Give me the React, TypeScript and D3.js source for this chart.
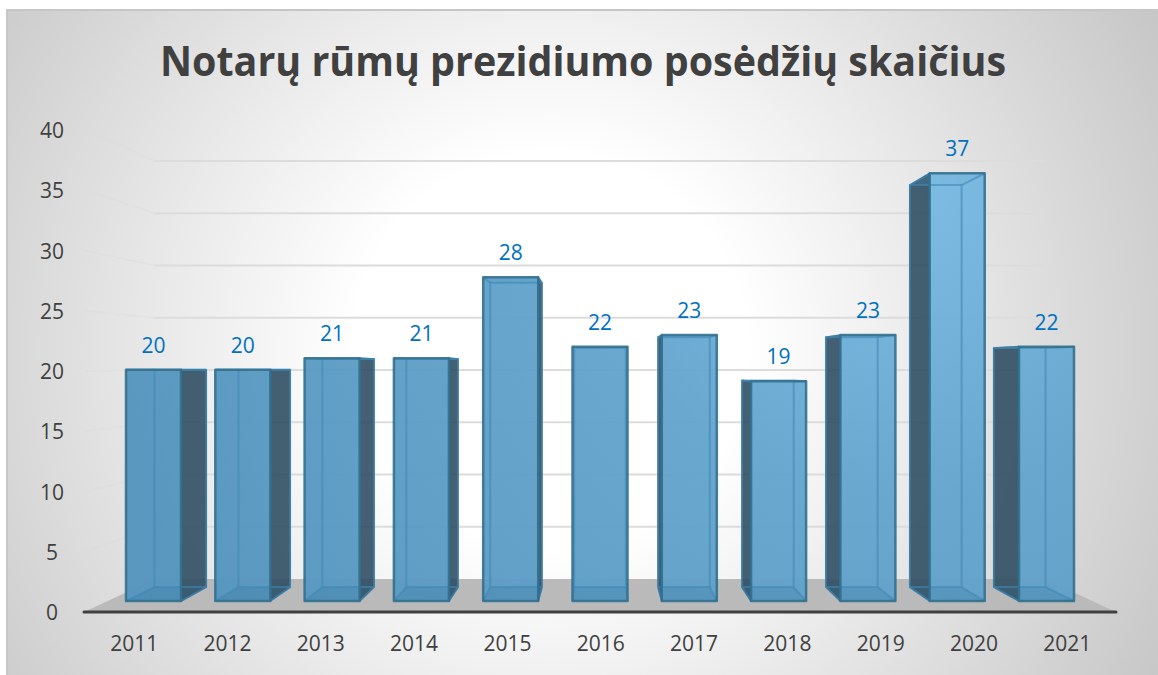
import React from "react";
import * as d3 from "d3";

const years = ["2011","2012","2013","2014","2015","2016","2017","2018","2019","2020","2021"];
const values = [20,20,21,21,28,22,23,19,23,37,22];
const yTicks = [0,5,10,15,20,25,30,35,40];
const gridTicks = [5,10,15,20,25,30,35,40];
const title = "Notarų rūmų prezidiumo posėdžių skaičius";

const W = 1158, H = 675;
const FONT = "'Open Sans', sans-serif";
const vanish = { x: 600, y: 369, k: 0.94 };

const xBar = d3.scaleBand<string>().domain(years).range([126, 1074]).paddingInner(0.384).paddingOuter(0);
const xLabel = d3.scaleBand<string>().domain(years).range([87.5, 1114]);
const yFront = d3.scaleLinear().domain([0, 40]).range([601, 138.6]);
const yWall = d3.scaleLinear().domain([0, 40]).range([579, 161]);
const yLeft = d3.scaleLinear().domain([0, 40]).range([612, 130]);

const backX = (x: number) => vanish.x + vanish.k * (x - vanish.x);
const backY = (y: number) => vanish.y + vanish.k * (y - vanish.y);
const line = d3.line<[number, number]>();
const closed = (pts: [number, number][]) => line(pts) + "Z";

export default function App() {
  const floorPts: [number, number][] = [[84, 612], [155, yWall(0)], [1045, yWall(0)], [1116, 612]];
  return (
    <svg width={W} height={H} viewBox={`0 0 ${W} ${H}`} style={{ position: "fixed", left: 0, top: 0, display: "block" }}>
      <defs>
        <radialGradient id="bg" gradientUnits="userSpaceOnUse" cx={550} cy={350} r={700}>
          <stop offset="0.28" stopColor="#ffffff" />
          <stop offset="0.6" stopColor="#e6e6e6" />
          <stop offset="1" stopColor="#c6c6c6" />
        </radialGradient>
        <radialGradient id="faceFill" gradientUnits="userSpaceOnUse" cx={900} cy={170} r={820}>
          <stop offset="0" stopColor="#7dbce4" />
          <stop offset="0.4" stopColor="#65a5ce" />
          <stop offset="1" stopColor="#5595be" />
        </radialGradient>
      </defs>
      <rect x={0} y={0} width={W} height={H} fill="#ffffff" />
      <rect x={7} y={10} width={W} height={H} fill="url(#bg)" stroke="#c6c6c6" strokeWidth={2} />

      <text x={583} y={76} textAnchor="middle" fontFamily={FONT} fontWeight={700} fontSize={42} textLength={846} lengthAdjust="spacingAndGlyphs" fill="#404040">{title}</text>

      {gridTicks.map((v) => (
        <g key={v} fill="none" stroke="#dcdcdc" strokeWidth={2}>
          <path d={line([[155, yWall(v)], [1045, yWall(v)]])!} />
          <path d={line([[85, yLeft(v)], [155, yWall(v)]])!} strokeOpacity={0.45} strokeWidth={1.5} />
        </g>
      ))}

      <path d={closed(floorPts)} fill="#bababa" />
      <path d={line([[84, 612], [1116, 612]])!} stroke="#404040" strokeWidth={3} strokeLinecap="round" />

      {years.map((yr, i) => {
        const l = xBar(yr)!, r = l + xBar.bandwidth();
        const t = yFront(values[i]), b = yFront(0);
        const bl = backX(l), br = backX(r), bt = backY(t), bb = backY(b);
        const sx = r <= vanish.x ? r : l;
        const sbx = r <= vanish.x ? br : bl;
        const hasSide = !(l < vanish.x && r > vanish.x);
        return (
          <g key={yr}>
            {hasSide && (
              <path d={closed([[sx, t], [sbx, bt], [sbx, bb], [sx, b]])} fill="#2b4a5e" fillOpacity={0.88} stroke="#34627f" strokeWidth={1.5} strokeLinejoin="round" />
            )}
            <path d={closed([[l, t], [r, t], [br, bt], [bl, bt]])} fill="#3e7394" fillOpacity={0.55} />
            <rect x={l} y={t} width={r - l} height={b - t} fill="url(#faceFill)" fillOpacity={0.97} />
            <path d={closed([[l, b], [r, b], [br, bb], [bl, bb]])} fill="#2f6d92" fillOpacity={0.22} />
            <g fill="none" stroke="#3f88b4" strokeWidth={2} strokeOpacity={0.6}>
              <path d={closed([[bl, bt], [br, bt], [br, bb], [bl, bb]])} />
              <path d={line([[l, b], [bl, bb]])!} />
              <path d={line([[r, b], [br, bb]])!} />
              <path d={line([[l, t], [bl, bt]])!} />
              <path d={line([[r, t], [br, bt]])!} />
            </g>
            <rect x={l} y={t} width={r - l} height={b - t} fill="none" stroke="#33708f" strokeOpacity={0.9} strokeWidth={2.5} strokeLinejoin="round" />
            <text x={(l + r) / 2} y={t - 17} textAnchor="middle" fontFamily={FONT} fontSize={21} fill="#0070c0">{values[i]}</text>
            <text x={xLabel(yr)! + xLabel.bandwidth() / 2} y={651} textAnchor="middle" fontFamily={FONT} fontSize={21} fill="#404040">{yr}</text>
          </g>
        );
      })}

      {yTicks.map((v) => (
        <text key={v} x={52} y={yLeft(v) + 8} textAnchor="middle" fontFamily={FONT} fontSize={21} fill="#404040">{v}</text>
      ))}
    </svg>
  );
}
